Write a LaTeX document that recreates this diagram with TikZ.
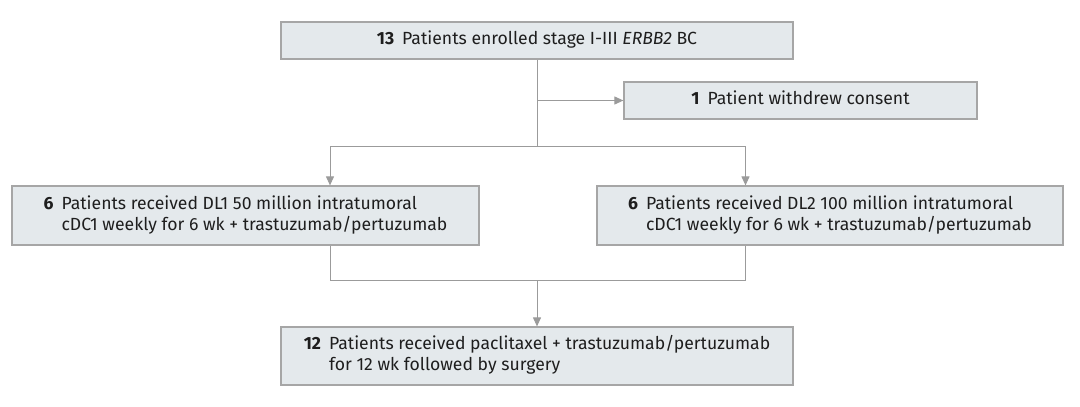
\documentclass[tikz,border=0pt]{standalone}
\usepackage{fontspec}
\setmainfont{Fira Sans}
\usepackage{tikz}
\usetikzlibrary{arrows.meta}
\definecolor{boxfill}{HTML}{E4E9EC}
\definecolor{boxline}{HTML}{A6A6A6}
\definecolor{linkline}{HTML}{9B9B9B}
\definecolor{textcol}{HTML}{1E1E1E}
\tikzstyle{stagebox} = [rectangle, draw = boxline, line width=1.2pt, fill = boxfill, text = textcol, inner sep=0pt, align=center, font=\fontsize{17.6}{21}\selectfont]
\tikzstyle{link} = [draw = linkline, line width=1pt]
\tikzstyle{arrow} = [link, -{Triangle[length=9pt,width=8pt]}, color=linkline]
\newcommand{\cnt}[2]{\begin{tabular}{@{}l@{\hspace{8pt}}l@{}}\textbf{#1} & #2\end{tabular}}

\begin{document}
\begin{tikzpicture}[x=1pt, y=1pt]
		\useasboundingbox (0,0) rectangle (1080,-407);
		\node (enrol) [stagebox, minimum width=512pt, minimum height=37pt] at (537,-40.5) {\cnt{13}{Patients enrolled stage I-III \textit{ERBB2} BC}};
		\node (withdrew) [stagebox, minimum width=353pt, minimum height=37pt] at (800.5,-100.5) {\cnt{1}{Patient withdrew consent}};
		\node (dlone) [stagebox, minimum width=467pt, minimum height=59pt] at (245.5,-215.5) {\cnt{6}{Patients received DL1 50 million intratumoral\\ & cDC1 weekly for 6 wk + trastuzumab/pertuzumab}};
		\node (dltwo) [stagebox, minimum width=466pt, minimum height=59pt] at (830,-215.5) {\cnt{6}{Patients received DL2 100 million intratumoral\\ & cDC1 weekly for 6 wk + trastuzumab/pertuzumab}};
		\node (surgery) [stagebox, minimum width=512pt, minimum height=58pt] at (537,-356) {\cnt{12}{Patients received paclitaxel + trastuzumab/pertuzumab\\ & for 12 wk followed by surgery}};
		
		\coordinate (split) at (537,-146);
		\coordinate (leftin) at (330,-146);
		\coordinate (rightin) at (745.5,-146);
		\coordinate (merge) at (537,-280);
		
		\draw [link](enrol.south) -- (split);
		\draw [arrow](enrol.south |- withdrew.west) -- (withdrew.west);
		\draw [link](leftin) -- (rightin);
		\draw [arrow](leftin) -- (leftin |- dlone.north);
		\draw [arrow](rightin) -- (rightin |- dltwo.north);
		\draw [link](leftin |- dlone.south) -- (leftin |- merge) -- (rightin |- merge) -- (rightin |- dltwo.south);
		\draw [arrow](merge) -- (surgery.north);
	\end{tikzpicture}
\end{document}
